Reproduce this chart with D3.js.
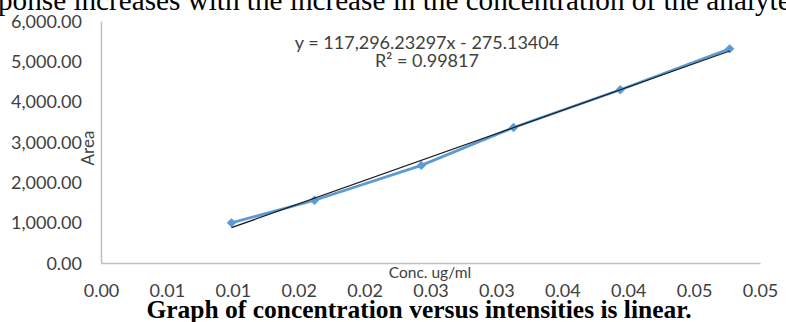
<!DOCTYPE html>
<html>
<head>
<meta charset="utf-8">
<script src="https://cdn.jsdelivr.net/npm/d3@7"></script>
<style>
  body { margin: 0; background: #fff; }
  svg { display: block; }
  .axis text { font-family: Lato, "Open Sans", sans-serif; font-size: 18px; fill: #404040; }
  .axis path { stroke: #bfbfbf; stroke-width: 1.5; }
</style>
</head>
<body>
<svg width="786" height="322"></svg>
<script>
// data
var conc = [0.0099, 0.0162, 0.0243, 0.0313, 0.0394, 0.0477];
var area = [995, 1555, 2420, 3360, 4295, 5310];

var xTicks = [0, 0.005, 0.01, 0.015, 0.02, 0.025, 0.03, 0.035, 0.04, 0.045, 0.05];
var xTickLabels = ["0.00", "0.01", "0.01", "0.02", "0.02", "0.03", "0.03", "0.04", "0.04", "0.05", "0.05"];
var yTicks = [0, 1000, 2000, 3000, 4000, 5000, 6000];

var equationText = "y = 117,296.23297x - 275.13404";
var r2Text = "R² = 0.99817";

var svg = d3.select("svg");

// plot area in pixels
var x = d3.scaleLinear().domain([0, 0.05]).range([101, 760]),
    y = d3.scaleLinear().domain([0, 6000]).range([263, 21]);

var data = conc.map(function(c, i) { return {x: c, y: area[i]}; });

// text of the page that is cut off at the top
svg.append("text")
    .attr("x", -2)
    .attr("y", 10)
    .style("font-family", "'Liberation Serif', 'Times New Roman', serif")
    .style("font-size", "29.2px")
    .attr("fill", "#000")
    .text("ponse increases with the increase in the concentration of the analyte");

// axes, no tick marks
svg.append("g")
    .attr("class", "axis axis--y")
    .attr("transform", "translate(" + x(0) + ",0)")
    .call(d3.axisLeft(y).tickValues(yTicks).tickSize(0).tickPadding(19).tickFormat(d3.format(",.2f")))
    .call(function(g) { g.selectAll("text").attr("dy", "0.35em"); });

svg.append("g")
    .attr("class", "axis axis--x")
    .attr("transform", "translate(0," + y(0) + ")")
    .call(d3.axisBottom(x).tickValues(xTicks).tickSize(0).tickPadding(21)
      .tickFormat(function(d, i) { return xTickLabels[i]; }));

// axis titles
svg.append("text")
    .attr("transform", "translate(94,148) rotate(-90)")
    .attr("text-anchor", "middle")
    .style("font-family", "Lato, sans-serif")
    .style("font-size", "17px")
    .attr("fill", "#404040")
    .text("Area");

svg.append("text")
    .attr("x", 430)
    .attr("y", 278)
    .attr("text-anchor", "middle")
    .style("font-family", "Lato, sans-serif")
    .style("font-size", "15.5px")
    .attr("fill", "#404040")
    .text("Conc. ug/ml");

// series line and diamond markers
var line = d3.line()
    .x(function(d) { return x(d.x); })
    .y(function(d) { return y(d.y); });

svg.append("path")
    .datum(data)
    .attr("fill", "none")
    .attr("stroke", "#5b9bd5")
    .attr("stroke-width", 2.75)
    .attr("d", line);

svg.selectAll(".dot")
    .data(data)
    .enter().append("path")
      .attr("class", "dot")
      .attr("transform", function(d) { return "translate(" + x(d.x) + "," + y(d.y) + ") rotate(45)"; })
      .attr("d", d3.symbol(d3.symbolSquare, 44))
      .attr("fill", "#5b9bd5");

// linear trendline, least squares from the points
var mx = d3.mean(conc), my = d3.mean(area);
var sxy = d3.sum(data, function(d) { return (d.x - mx) * (d.y - my); }),
    sxx = d3.sum(data, function(d) { return (d.x - mx) * (d.x - mx); });
var slope = sxy / sxx, icpt = my - slope * mx;
var trend = d3.extent(conc).map(function(c) { return {x: c, y: slope * c + icpt}; });

svg.append("path")
    .datum(trend)
    .attr("fill", "none")
    .attr("stroke", "#1a1a1a")
    .attr("stroke-width", 1.3)
    .attr("d", line);

// trendline label
var lab = svg.append("g")
    .attr("text-anchor", "middle")
    .style("font-family", "Lato, sans-serif")
    .style("font-size", "18px")
    .attr("fill", "#404040");
lab.append("text").attr("x", 427).attr("y", 49).text(equationText);
lab.append("text").attr("x", 427).attr("y", 67).text(r2Text);

// caption under the chart
svg.append("text")
    .attr("x", 419)
    .attr("y", 318)
    .attr("text-anchor", "middle")
    .style("font-family", "'Liberation Serif', 'Times New Roman', serif")
    .style("font-size", "25.5px")
    .style("font-weight", "bold")
    .attr("fill", "#000")
    .text("Graph of concentration versus intensities is linear.");
</script>
</body>
</html>
